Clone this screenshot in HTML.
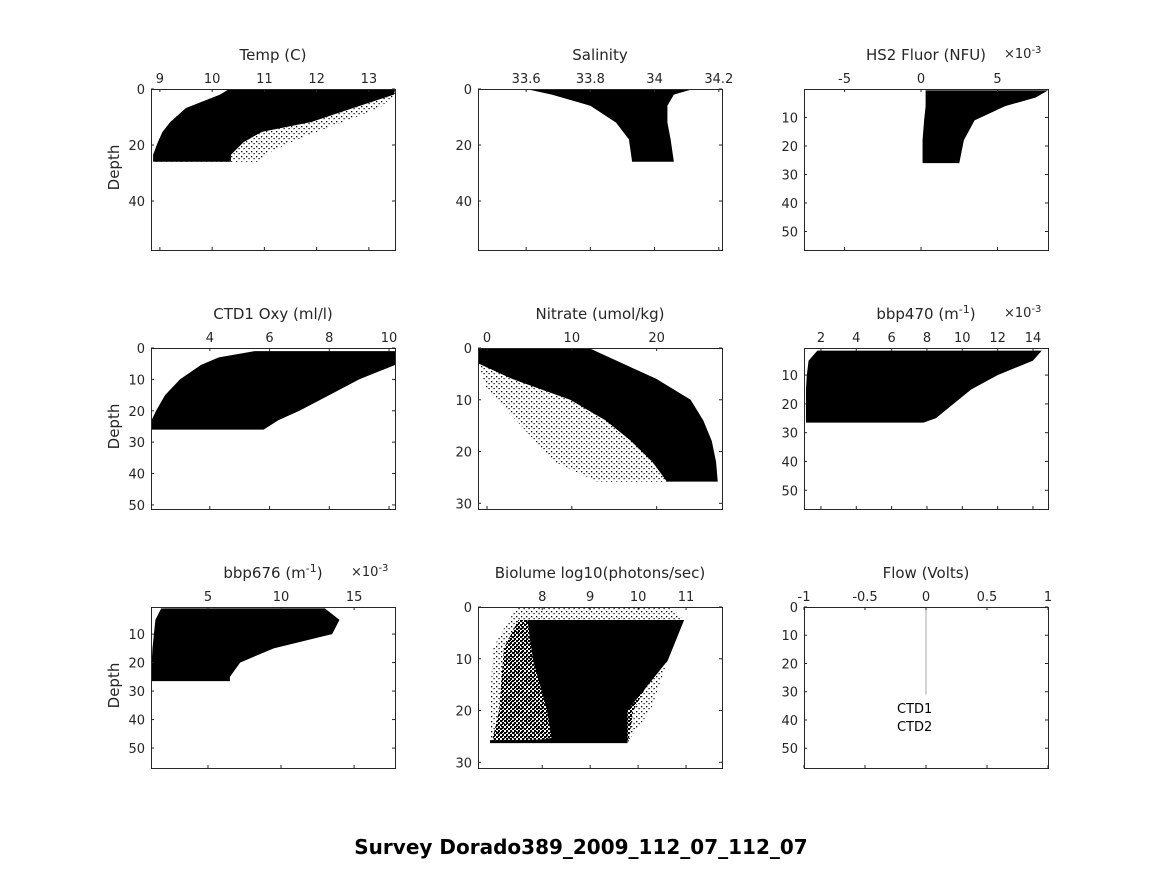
<!DOCTYPE html>
<html><head><meta charset="utf-8"><style>
body{margin:0;background:#fff}
svg text{font-family:"DejaVu Sans","Liberation Sans",sans-serif;fill:#262626}
</style></head><body>
<svg id="fig" width="1164" height="864" xmlns="http://www.w3.org/2000/svg">
<defs>
<pattern id="sparse" width="5" height="5" patternUnits="userSpaceOnUse"><rect x="1" y="1" width="1.3" height="1.3" fill="#000"/><rect x="3.5" y="3" width="1.2" height="1.2" fill="#000"/></pattern>
<pattern id="medium" width="4" height="4" patternUnits="userSpaceOnUse"><rect x="0" y="0" width="2" height="2" fill="#000"/><rect x="2" y="2" width="2" height="2" fill="#000"/><rect x="2" y="0" width="1" height="1" fill="#000"/></pattern>
</defs>
<text x="581" y="854" text-anchor="middle" font-size="20" font-weight="bold" style="fill:#000">Survey Dorado389_2009_112_07_112_07</text>
</svg>
<script>
// ---- data (depth profile envelopes per panel) ----
const tempDepth=[0.3,2,6.8,11.8,15.3,19,23.5,26];
const tempLeft=[10.3,10.15,9.5,9.2,9.05,8.96,8.87,8.87];
const tempRight=[13.5,13.48,12.7,11.9,10.95,10.6,10.36,10.36];
const tempSparseRight=[13.5,13.5,13.2,12.5,12,11.5,11,10.9];
const salDepth=[0,2,6,12,18,26];
const salLeft=[33.6,33.68,33.8,33.88,33.92,33.93];
const salRight=[34.12,34.06,34.04,34.04,34.05,34.06];
const fluDepth=[0.5,3,6,11,18,26];
const fluLeft=[0.3,0.3,0.3,0.2,0.1,0.1];
const fluRight=[8.3,7.5,5.5,3.5,2.8,2.5];
const oxyDepth=[1,3,5.4,10,15,20,23,26];
const oxyLeft=[5.5,4.3,3.7,3.0,2.5,2.2,2.05,2.03];
const oxyRight=[10.2,10.2,10.2,9,8,7,6.3,5.8];
const nitDepth=[0,3,6,10,14,18,22,25.8];
const nitLeft=[-1,-1,3,9.8,14,17,19.5,21.2];
const nitRight=[12,16,20,24,25.5,26.5,27,27.2];
const nitSparseDepth=[3,8,15,22,25.8];
const nitSparseLeft=[-1,0,4,8,13];
const nitSparseRight=[6,12,17,20,22];
const b470Depth=[1.5,5,10,15,20,25,26.5];
const b470Left=[1.8,1.3,1.2,1.15,1.15,1.15,1.15];
const b470Right=[14.5,14,12,10.5,9.5,8.5,7.8];
const b676Depth=[1,5,10,15,20,25,26.5];
const b676Left=[1.8,1.4,1.3,1.2,1.15,1.15,1.15];
const b676Right=[13,14,13.5,9.5,7.2,6.5,6.5];
const bioSparseDepth=[0,2.5,8,20,26];
const bioSparseLeft=[7.5,7.3,6.97,6.91,6.91];
const bioSparseRight=[10.7,10.96,10.7,10.26,9.78];
const bioMedDepth=[2.5,8,20,26];
const bioMedLeft=[7.5,7.2,7.1,6.95];
const bioMedRight=[10.9,10.6,9.9,9.8];
const bioDepth=[2.5,10.3,20,25.5,26];
const bioLeft=[7.69,7.81,8.1,8.2,6.91];
const bioRight=[10.96,10.62,9.78,9.78,9.78];
const flowDepth=[0,31];
const flowValue=[0,0];

const NS="http://www.w3.org/2000/svg";
const svg=document.getElementById('fig');
function el(t,a,p){const e=document.createElementNS(NS,t);for(const k in a)e.setAttribute(k,a[k]);(p||svg).appendChild(e);return e;}
const cols=[151,478,804],rows=[89,348,607],W=244,H=161;
function panel(name,c,r,xlim,ylim,xticks,yticks,title,opts){
  const g=el('g',{});
  
  
  const x0=cols[c],y0=rows[r];
  const sx=v=>x0+(v-xlim[0])/(xlim[1]-xlim[0])*W;
  const sy=v=>y0+(v-ylim[0])/(ylim[1]-ylim[0])*H;
  const clip='clip-'+name;
  const cp=el('clipPath',{id:clip},g);el('rect',{x:x0,y:y0,width:W,height:H},cp);
  const data=el('g',{'clip-path':'url(#'+clip+')'},g);
  (opts.polys||[]).forEach(p=>{
    const pts=p.d.map((d,i)=>sx(p.l[i])+','+sy(d)).concat(p.d.map((d,i)=>sx(p.r[i])+','+sy(d)).reverse());
    const e=el('polygon',{points:pts.join(' '),fill:p.fill||'#000'},data);
    
    
  });
  (opts.lines||[]).forEach(l=>{
    const e=el('polyline',{points:l.d.map((d,i)=>sx(l.v[i])+','+sy(d)).join(' '),fill:'none',stroke:l.c,'stroke-width':l.w||1},data);
    
    
  });
  const box=el('rect',{x:x0+0.5,y:y0+0.5,width:W,height:H,fill:'none',stroke:'#262626','stroke-width':1},g);
  
  
  xticks.forEach(t=>{
    const X=sx(t);
    el('line',{x1:X,x2:X,y1:y0,y2:y0+3,stroke:'#262626'},g);
    el('line',{x1:X,x2:X,y1:y0+H,y2:y0+H-3,stroke:'#262626'},g);
    const tx=el('text',{x:X,y:y0-6,'text-anchor':'middle','font-size':13},g);tx.textContent=t;
    
    
  });
  yticks.forEach(t=>{
    const Y=sy(t);
    el('line',{y1:Y,y2:Y,x1:x0,x2:x0+3,stroke:'#262626'},g);
    el('line',{y1:Y,y2:Y,x1:x0+W,x2:x0+W-3,stroke:'#262626'},g);
    const tx=el('text',{x:x0-6,y:Y+5,'text-anchor':'end','font-size':13},g);tx.textContent=t;
    
    
  });
  const tt=el('text',{x:x0+W/2,y:y0-29,'text-anchor':'middle','font-size':15},g);tt.innerHTML=title;
  
  
  if(opts.exp){const e=el('text',{x:x0+W-44,y:y0-31,'font-size':13},g);e.innerHTML='×10<tspan dy="-5" font-size="10">-3</tspan>';
    
    }
  if(c===0){const d=el('text',{x:0,y:0,'font-size':15,'text-anchor':'middle',transform:'translate('+(x0-32)+','+(y0+H/2-2)+') rotate(-90)'},g);d.textContent='Depth';
    
    }
  return {g,sx,sy};
}
panel('temp',0,0,[8.83,13.5],[0,57.5],[9,10,11,12,13],[0,20,40],'Temp (C)',{polys:[{d:tempDepth,l:tempLeft,r:tempSparseRight,fill:'url(#sparse)'},{d:tempDepth,l:tempLeft,r:tempRight}]});
panel('salinity',1,0,[33.45,34.21],[0,57.5],['33.6','33.8','34','34.2'],[0,20,40],'Salinity',{polys:[{d:salDepth,l:salLeft,r:salRight}]});
panel('fluor',2,0,[-7.65,8.3],[0,56.5],[-5,0,5],[10,20,30,40,50],'HS2 Fluor (NFU)',{exp:1,polys:[{d:fluDepth,l:fluLeft,r:fluRight}]});
panel('oxy',0,1,[2.03,10.2],[0,51.3],[4,6,8,10],[0,10,20,30,40,50],'CTD1 Oxy (ml/l)',{polys:[{d:oxyDepth,l:oxyLeft,r:oxyRight}]});
panel('nitrate',1,1,[-1.06,27.7],[0,31.1],[0,10,20],[0,10,20,30],'Nitrate (umol/kg)',{polys:[{d:nitSparseDepth,l:nitSparseLeft,r:nitSparseRight,fill:'url(#sparse)'},{d:nitDepth,l:nitLeft,r:nitRight}]});
panel('bbp470',2,1,[1.04,14.85],[0.6,56.5],[2,4,6,8,10,12,14],[10,20,30,40,50],'bbp470 (m<tspan dy="-6" font-size="11">-1</tspan><tspan dy="6">)</tspan>',{exp:1,polys:[{d:b470Depth,l:b470Left,r:b470Right}]});
panel('bbp676',0,2,[1.1,17.8],[0.5,57],[5,10,15],[10,20,30,40,50],'bbp676 (m<tspan dy="-6" font-size="11">-1</tspan><tspan dy="6">)</tspan>',{exp:1,polys:[{d:b676Depth,l:b676Left,r:b676Right}]});
panel('biolume',1,2,[6.66,11.75],[0,31.1],[8,9,10,11],[0,10,20,30],'Biolume log10(photons/sec)',{polys:[{d:bioSparseDepth,l:bioSparseLeft,r:bioSparseRight,fill:'url(#sparse)'},{d:bioMedDepth,l:bioMedLeft,r:bioMedRight,fill:'url(#medium)'},{d:bioDepth,l:bioLeft,r:bioRight}],lines:[{d:[26,26],v:[6.91,9.78],c:'#000',w:3}]});
const fl=panel('flow',2,2,[-1,1],[0,57],['-1','-0.5','0','0.5','1'],[0,10,20,30,40,50],'Flow (Volts)',{lines:[{d:flowDepth,v:flowValue,c:'#aaa',w:1}]});
const l1=el('text',{x:897,y:713,'font-size':13,style:'fill:#000'},fl.g);l1.textContent='CTD1';


const l2=el('text',{x:897,y:731,'font-size':13,style:'fill:#000'},fl.g);l2.textContent='CTD2';


</script>
</body></html>
